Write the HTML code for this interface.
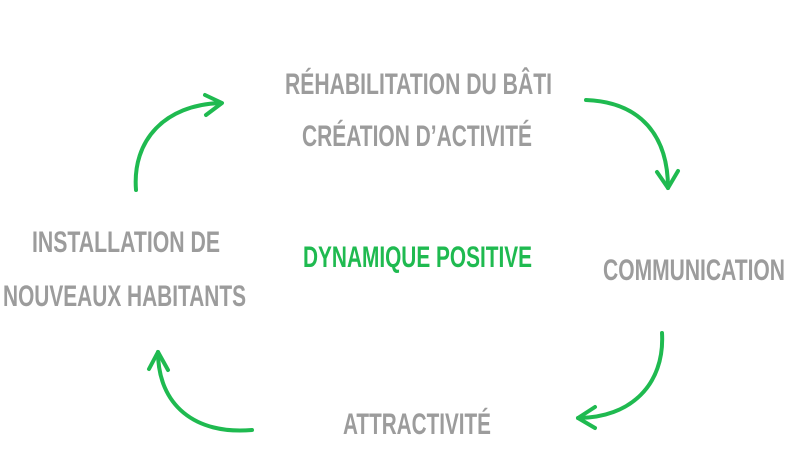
<!DOCTYPE html>
<html><head><meta charset="utf-8"><style>
html,body{margin:0;padding:0;background:#fff;width:800px;height:462px;overflow:hidden}
svg{display:block}
text{font-family:"Liberation Sans",sans-serif;font-weight:bold;font-size:30px}
</style></head><body>
<svg width="800" height="462" viewBox="0 0 800 462">
<g fill="#9c9c9c">
<text x="285" y="94" textLength="267" lengthAdjust="spacingAndGlyphs">RÉHABILITATION DU BÂTI</text>
<text x="302" y="146" textLength="230" lengthAdjust="spacingAndGlyphs">CRÉATION D’ACTIVITÉ</text>
<text x="32" y="252" textLength="188" lengthAdjust="spacingAndGlyphs">INSTALLATION DE</text>
<text x="3" y="306" textLength="243" lengthAdjust="spacingAndGlyphs">NOUVEAUX HABITANTS</text>
<text x="603" y="280" textLength="182" lengthAdjust="spacingAndGlyphs">COMMUNICATION</text>
<text x="343" y="434" textLength="148" lengthAdjust="spacingAndGlyphs">ATTRACTIVITÉ</text>
</g>
<text x="303" y="267" textLength="229" lengthAdjust="spacingAndGlyphs" fill="#1fba50">DYNAMIQUE POSITIVE</text>
<g fill="none" stroke="#1fba50" stroke-width="4" stroke-linecap="round" stroke-linejoin="round">
<path d="M136 190 C132 140 165 105 220 103"/>
<path d="M205 95 L222 103 L206 115"/>
<path d="M586 100 C640 102 668 135 668 188"/>
<path d="M657 172 L668 188 L678 171"/>
<path d="M662 333 C665 385 630 418 578 418"/>
<path d="M595 407 L578 418 L595 428"/>
<path d="M252 430 C195 435 158 405 158 352"/>
<path d="M149 369 L158 352 L168 370"/>
</g>
</svg>
</body></html>
